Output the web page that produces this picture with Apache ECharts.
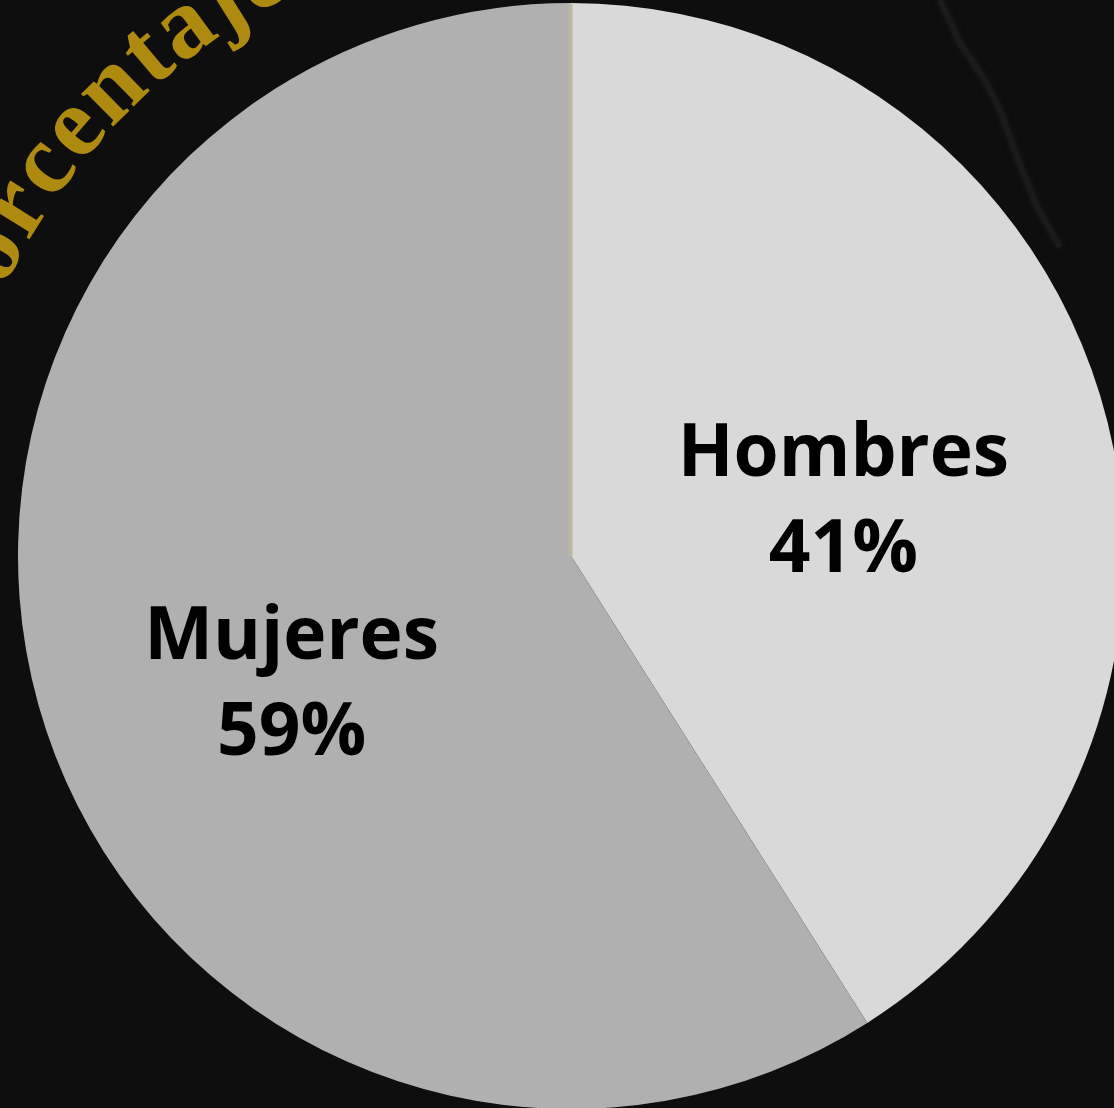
<!DOCTYPE html>
<html>
<head>
<meta charset="utf-8">
<script src="https://cdn.jsdelivr.net/npm/echarts@6/dist/echarts.min.js"></script>
<style>
html, body { margin: 0; padding: 0; background: #0e0e0e; }
#chart { width: 1114px; height: 1108px; }
</style>
</head>
<body>
<div id="chart"></div>
<script>
var chart = echarts.init(document.getElementById('chart'));

// datos
var categorias = ['Hombres', 'Mujeres'];
var porcentajes = [41, 59];
var colores = ['#d9d9d9', '#b0b0b0'];
var titulo = 'Porcentaje por género';

var cx = 571, cy = 556, radio = 553;

// titulo curvo: cada letra va sobre un arco alrededor del pastel
var tamTitulo = 100;
var ctx = document.createElement('canvas').getContext('2d');
ctx.font = 'bold ' + tamTitulo + 'px "Liberation Serif"';
var anchos = [];
for (var i = 0; i < titulo.length; i++) {
	anchos.push(ctx.measureText(titulo[i]).width);
}
var rArco = 653;   // radio donde va el centro de cada letra
var rTexto = 642;  // radio para medir el largo del arco
// "r" (indice 2) a -57.9 grados y "a" (indice 7) a -36.2 grados
var angR = -57.9 * Math.PI / 180, angA = -36.2 * Math.PI / 180;
var base = anchos[2] / 2 + anchos[3] + anchos[4] + anchos[5] + anchos[6] + anchos[7] / 2;
var espacio = ((angA - angR) * rTexto - base) / 5;
var posR = anchos[0] + anchos[1] + 2 * espacio + anchos[2] / 2;
var letras = [];
var pos = 0;
for (var i = 0; i < titulo.length; i++) {
	var centro = pos + anchos[i] / 2;
	var ang = angR + (centro - posR) / rTexto;
	letras.push({
		type: 'text',
		x: cx + rArco * Math.sin(ang),
		y: cy - rArco * Math.cos(ang),
		rotation: -ang,
		style: {
			text: titulo[i],
			fontSize: tamTitulo,
			fontFamily: 'Liberation Serif',
			fontWeight: 'bold',
			fill: '#ae8a10',
			align: 'center',
			verticalAlign: 'middle'
		},
		silent: true
	});
	pos += anchos[i] + espacio;
}

// veta del marmol del fondo
var veta = {
	type: 'polyline',
	shape: { points: [[940, 0], [960, 43], [983, 77], [1000, 110], [1017, 157], [1037, 207], [1060, 247]] },
	style: { stroke: '#1a1a1a', lineWidth: 6, fill: null, shadowBlur: 6, shadowColor: '#1a1a1a' },
	silent: true,
	z: -1
};
// borde claro del inicio de la primera porcion
var borde = {
	type: 'line',
	shape: { x1: cx - 0.5, y1: cy - radio + 1, x2: cx - 0.5, y2: cy },
	style: { stroke: '#bdb6a2', lineWidth: 4 },
	silent: true,
	z: 10
};

var offsets = [[4, 25], [-11, 52]];
var datos = categorias.map(function (c, i) {
	return {
		name: c,
		value: porcentajes[i],
		itemStyle: { color: colores[i] },
		label: { offset: offsets[i] }
	};
});

option = {
	backgroundColor: '#0e0e0e',
	animation: false,
	graphic: [veta, borde].concat(letras),
	series: [{
		type: 'pie',
		center: [cx, cy],
		radius: [0, radio],
		startAngle: 90,
		clockwise: true,
		itemStyle: { borderWidth: 0 },
		label: {
			show: true,
			position: 'inside',
			formatter: '{b}\n{c}%',
			color: '#000',
			fontFamily: 'Open Sans',
			fontWeight: 'bold',
			fontSize: 73,
			lineHeight: 96
		},
		labelLine: { show: false },
		emphasis: { disabled: true },
		data: datos
	}]
};
chart.setOption(option);
</script>
</body>
</html>
